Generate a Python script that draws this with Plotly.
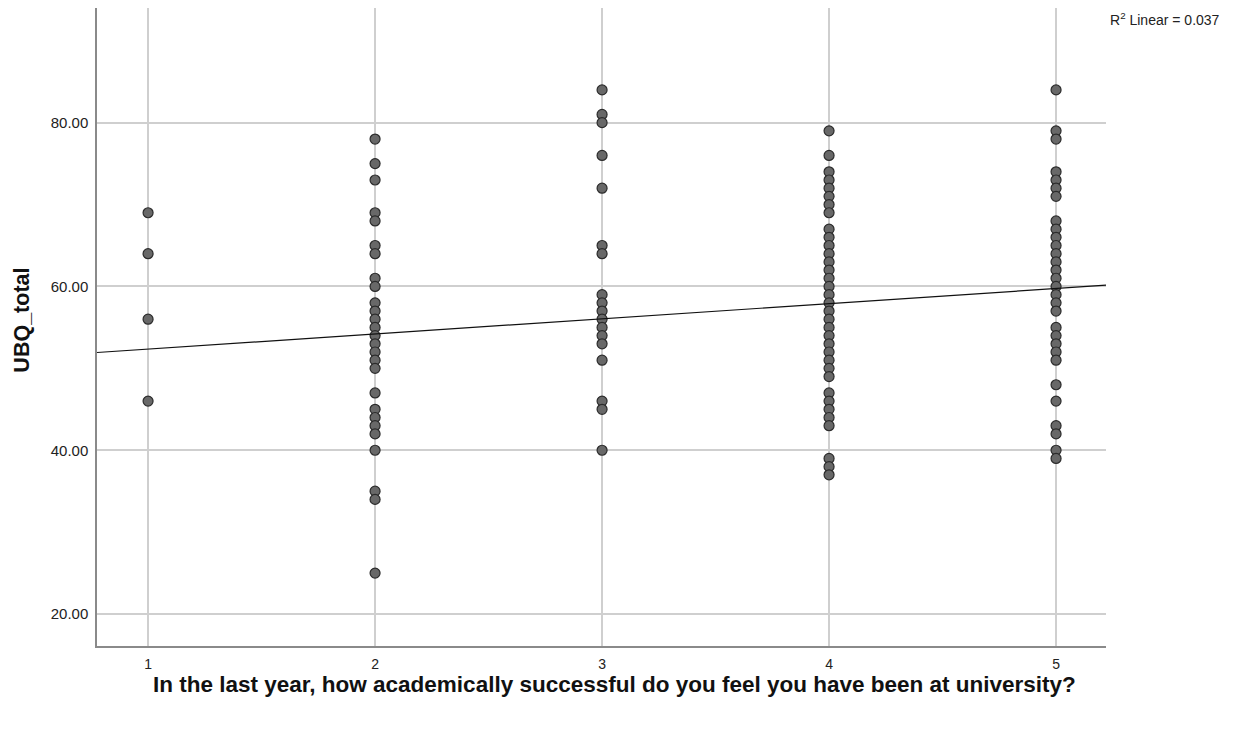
import plotly.graph_objects as go

# Data
success_levels = [1, 2, 3, 4, 5]
ubq_1 = [69, 64, 56, 46]
ubq_2 = [78, 75, 73, 69, 68, 65, 64, 61, 60, 58, 57, 56, 55, 54, 53, 52, 51, 50,
         47, 45, 44, 43, 42, 40, 35, 34, 25]
ubq_3 = [84, 81, 80, 76, 72, 65, 64, 59, 58, 57, 56, 55, 54, 53, 51, 46, 45, 40]
ubq_4 = [79, 76, 74, 73, 72, 71, 70, 69, 67, 66, 65, 64, 63, 62, 61, 60, 59, 58,
         57, 56, 55, 54, 53, 52, 51, 50, 49, 47, 46, 45, 44, 43, 39, 38, 37]
ubq_5 = [84, 79, 78, 74, 73, 72, 71, 68, 67, 66, 65, 64, 63, 62, 61, 60, 59, 58,
         57, 55, 54, 53, 52, 51, 48, 46, 43, 42, 40, 39]
groups = [ubq_1, ubq_2, ubq_3, ubq_4, ubq_5]

fit_intercept = 50.5
fit_slope = 1.85
r2_text = "R<sup>2</sup> Linear = 0.037"
x_title = "In the last year, how academically successful do you feel you have been at university?"
y_title = "UBQ_total"
y_ticks = [20, 40, 60, 80]
x_range = [0.775, 5.22]
y_range = [16.1, 94]

xs, ys = [], []
for lvl, vals in zip(success_levels, groups):
    xs += [lvl] * len(vals)
    ys += vals

fig = go.Figure()
fig.add_trace(go.Scatter(
    x=xs, y=ys, mode="markers",
    marker=dict(size=10, color="#686868", line=dict(color="#2b2b2b", width=1.2)),
    showlegend=False, hoverinfo="skip"))
fig.add_trace(go.Scatter(
    x=x_range, y=[fit_intercept + fit_slope * v for v in x_range],
    mode="lines", line=dict(color="#111111", width=1.2),
    showlegend=False, hoverinfo="skip"))

fig.update_layout(
    width=1225, height=722,
    margin=dict(l=89, r=127, t=0, b=84),
    paper_bgcolor="white", plot_bgcolor="white",
    font=dict(family="Liberation Sans, Arial, sans-serif", color="#222"),
    xaxis=dict(range=x_range, tickvals=success_levels, ticktext=[str(v) for v in success_levels],
               showgrid=True, gridcolor="#cfcfcf", gridwidth=1.5,
               showline=True, linecolor="#8a8a8a", linewidth=1.5,
               zeroline=False, tickfont=dict(size=14), ticks="", ticklabelstandoff=4),
    yaxis=dict(range=y_range, tickvals=y_ticks, ticktext=[f"{v:.2f}" for v in y_ticks],
               showgrid=True, gridcolor="#cfcfcf", gridwidth=1.5,
               showline=True, linecolor="#8a8a8a", linewidth=1.5,
               zeroline=False, tickfont=dict(size=15), ticks="", ticklabelstandoff=4),
)
fig.add_annotation(text=f"<b>{x_title}</b>", xref="paper", yref="paper",
                   x=0.513, y=-0.06, xanchor="center", yanchor="middle",
                   showarrow=False, font=dict(size=22.5, color="#111"))
fig.add_annotation(text=f"<b>{y_title}</b>", xref="paper", yref="paper",
                   x=-0.0743, y=0.51, xanchor="center", yanchor="middle", textangle=-90,
                   showarrow=False, font=dict(size=21.5, color="#111"))
fig.add_annotation(text=r2_text, xref="paper", yref="paper", x=1.115, y=1.0,
                   xanchor="right", yanchor="top", showarrow=False,
                   font=dict(size=14, color="#222"))

fig.write_html("out.html")
